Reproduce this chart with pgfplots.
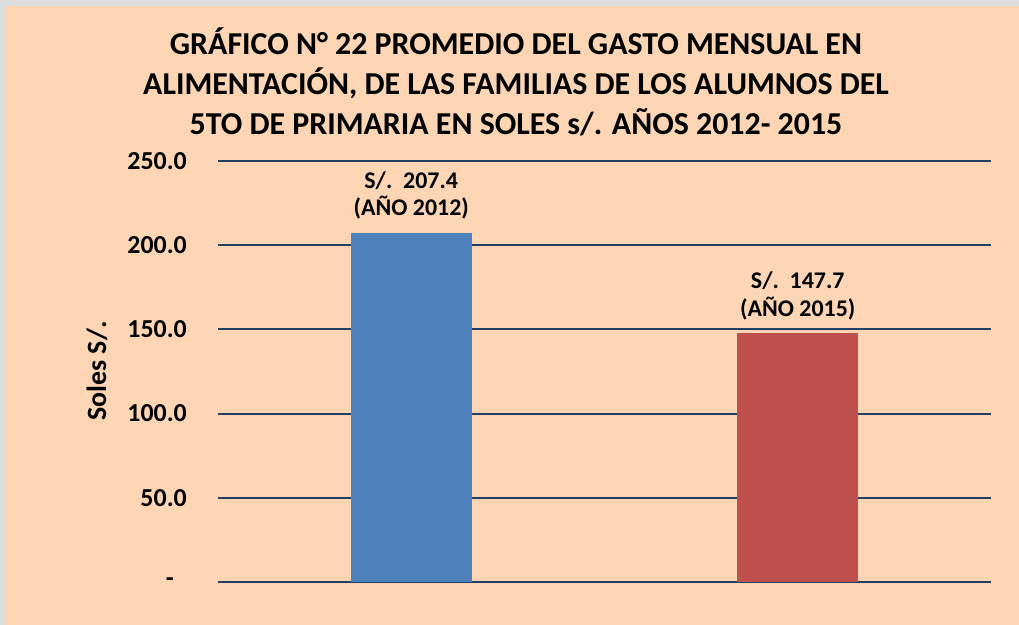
\documentclass[border=0pt]{standalone}
\usepackage{pgfplots}
\pgfplotsset{compat=1.18}
\usepackage{fontspec}
\setmainfont{Carlito}
\definecolor{peach}{HTML}{FCD5B5}
\definecolor{frame}{HTML}{DCDCDC}
\definecolor{gridnavy}{HTML}{243F66}
\definecolor{barblue}{HTML}{4F81BD}
\definecolor{barred}{HTML}{C0504D}
\begin{document}
\begin{tikzpicture}[x=1bp,y=1bp]
\fill[frame] (0,0) rectangle (1019,625);
\fill[peach] (5,0) rectangle (1019,619);
\coordinate (origin) at (218,43);
\node[anchor=base,inner sep=0pt,font=\fontsize{32}{32}\selectfont\bfseries] at (516,570) {GRÁFICO N° 22 PROMEDIO DEL GASTO MENSUAL EN};
\node[anchor=base,inner sep=0pt,font=\fontsize{32}{32}\selectfont\bfseries] at (516,530) {ALIMENTACIÓN, DE LAS FAMILIAS DE LOS ALUMNOS DEL};
\node[anchor=base,inner sep=0pt,font=\fontsize{32}{32}\selectfont\bfseries] at (516,490) {5TO DE PRIMARIA EN SOLES s/. AÑOS 2012- 2015};
\node[rotate=90,inner sep=0pt,font=\fontsize{28}{28}\selectfont\bfseries] at (97,254) {Soles S/.};
\begin{axis}[
  at={(origin)}, anchor=south west,
  scale only axis, width=773bp, height=421bp,
  xmin=-0.5, xmax=1.5, ymin=0, ymax=250,
  xtick=\empty,
  ytick={0,50,100,150,200,250},
  yticklabels={{-\hspace*{13bp}},50.0,100.0,150.0,200.0,250.0},
  yticklabel style={anchor=east, inner sep=0pt, xshift=-31bp, font=\fontsize{26}{26}\selectfont\bfseries},
  axis line style={draw=none},
  major tick style={draw=none},
  ymajorgrids,
  grid style={gridnavy, line width=2bp},
  ybar, bar width=121bp, bar shift=0pt,
  clip=false,
  every node near coord/.append style={align=center, anchor=south, inner sep=0pt, yshift=13bp, font=\fontsize{24}{28}\selectfont\bfseries, text=black},
]
\addplot[fill=barblue, draw=none, nodes near coords={S/.\ \ 207.4\\(AÑO 2012)}] coordinates {(0,207.4)};
\addplot[fill=barred, draw=none, nodes near coords={S/.\ \ 147.7\\(AÑO 2015)}] coordinates {(1,147.7)};
\end{axis}
\end{tikzpicture}
\end{document}
